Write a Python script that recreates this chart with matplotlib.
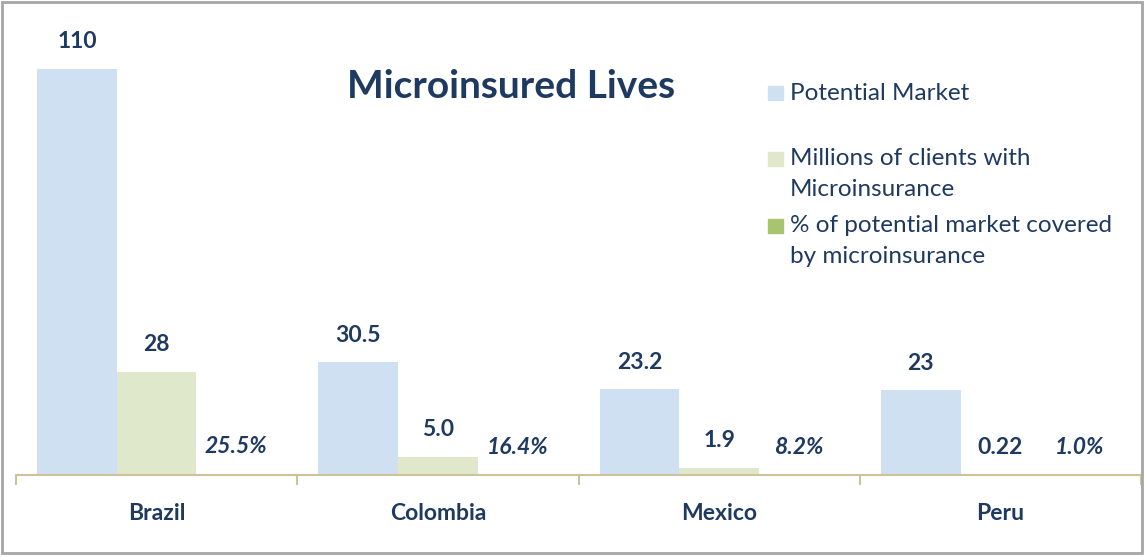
import numpy as np
import matplotlib.pyplot as plt
from matplotlib.patches import Rectangle

plt.rcParams["font.family"] = ["Lato", "DejaVu Sans"]

# --- data ---
countries = ["Brazil", "Colombia", "Mexico", "Peru"]
potential = [110, 30.5, 23.2, 23]
potential_labels = ["110", "30.5", "23.2", "23"]
clients = [28, 5.0, 1.9, 0.22]
clients_labels = ["28", "5.0", "1.9", "0.22"]
covered = [0.255, 0.164, 0.082, 0.010]
covered_labels = ["25.5%", "16.4%", "8.2%", "1.0%"]

series_names = [
    "Potential Market",
    "Millions of clients with\nMicroinsurance",
    "% of potential market covered\nby microinsurance",
]
colors = ["#cfe0f2", "#dfe8ca", "#a9c46e"]
navy = "#1f3a60"
axis_col = "#cdc39a"

W, H = 1145, 557
fig = plt.figure(figsize=(W / 100, H / 100), dpi=100)
ax = fig.add_axes([16 / W, (H - 475) / H, 1125 / W, 443 / H])

x = np.arange(len(countries))
bw = 0.283
bars = [
    (potential, potential_labels, colors[0], -bw, "normal"),
    (clients, clients_labels, colors[1], 0, "normal"),
    (covered, covered_labels, colors[1], bw, "italic"),
]
for vals, labs, c, off, style in bars:
    rects = ax.bar(x + off, vals, width=bw, color=c, edgecolor="none")
    for r, lab in zip(rects, labs):
        ax.annotate(lab, (r.get_x() + r.get_width() / 2, r.get_height()),
                    xytext=(0, 19.5), textcoords="offset points",
                    ha="center", va="center", fontsize=16.5, fontweight="bold",
                    fontstyle=style, color=navy)

ax.set_xlim(-0.5, 3.5)
ax.set_ylim(0, 120)
ax.set_yticks([])
for s in ["top", "right", "left"]:
    ax.spines[s].set_visible(False)
ax.spines["bottom"].set_color(axis_col)
ax.spines["bottom"].set_linewidth(1.5)

ax.set_xticks(x)
ax.set_xticklabels(countries, fontsize=16.5, fontweight="bold", color=navy)
ax.tick_params(axis="x", which="major", length=0, pad=20)
ax.set_xticks(np.arange(-0.5, 4, 1), minor=True)
ax.tick_params(axis="x", which="minor", length=7, width=1.5, color=axis_col,
               direction="out")

fig.text(511 / W, 1 - 86 / H, "Microinsured Lives", ha="center", va="center",
         fontsize=28, fontweight="bold", color=navy)

# legend drawn by hand to follow the original spacing
leg_y = [93, 174, 241]
leg_colors = [colors[0], colors[1], colors[2]]
for name, yy, c in zip(series_names, leg_y, leg_colors):
    n = name.count("\n") + 1
    top = yy - (n - 1) * 15.5
    fig.patches.append(Rectangle((768 / W, 1 - (top + 7) / H), 15 / W, 14 / H,
                                 transform=fig.transFigure, color=c))
    fig.text(790 / W, 1 - yy / H, name, ha="left", va="center", fontsize=17.5,
             color=navy, linespacing=1.6)

fig.patches.append(Rectangle((2 / W, 4 / H), (W - 5) / W, (H - 6) / H,
                             transform=fig.transFigure, fill=False,
                             edgecolor="#a6a6a6", linewidth=2))

fig.savefig("out.png", dpi=100)
